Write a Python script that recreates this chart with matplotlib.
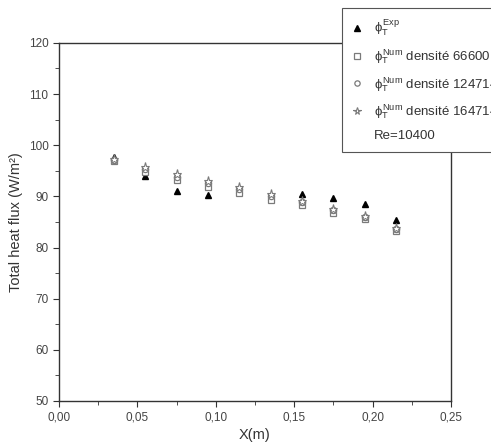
import matplotlib.pyplot as plt
import matplotlib.ticker as ticker
from matplotlib.lines import Line2D

plt.rcParams['font.family'] = ['Liberation Sans', 'DejaVu Sans']
plt.rcParams['mathtext.fontset'] = 'custom'
plt.rcParams['mathtext.rm'] = 'Liberation Sans'
plt.rcParams['mathtext.it'] = 'Liberation Sans'

# positions le long de la paroi (m)
x = [0.035, 0.055, 0.075, 0.095, 0.115, 0.135, 0.155, 0.175, 0.195, 0.215]

# flux total experimental et numerique (W/m2)
phi_exp = [97.7, 93.9, 91.1, 90.3, 91.3, 89.9, 90.4, 89.6, 88.5, 85.4]
phi_66600 = [96.9, 94.8, 93.2, 91.9, 90.6, 89.3, 88.3, 86.8, 85.6, 83.3]
phi_124714 = [97.2, 95.3, 93.8, 92.6, 91.4, 90.1, 88.8, 87.3, 85.9, 83.6]
phi_164714 = [97.4, 95.7, 94.3, 93.1, 91.9, 90.5, 89.1, 87.6, 86.2, 83.9]

labels = [r'$\phi_T^{\mathrm{Exp}}$',
          r'$\phi_T^{\mathrm{Num}}$ densité 66600',
          r'$\phi_T^{\mathrm{Num}}$ densité 124714',
          r'$\phi_T^{\mathrm{Num}}$ densité 164714',
          'Re=10400']

fig = plt.figure(figsize=(4.91, 4.47), dpi=100)
ax = fig.add_axes([0.120, 0.103, 0.7985, 0.801])

grey = '#7a7a7a'
h1, = ax.plot(x, phi_exp, linestyle='none', marker='^', color='black',
              markersize=5, zorder=2)
h2, = ax.plot(x, phi_66600, linestyle='none', marker='s', markerfacecolor='white',
              markeredgecolor=grey, markersize=4.5, markeredgewidth=0.9, zorder=3)
h3, = ax.plot(x, phi_124714, linestyle='none', marker='o', markerfacecolor='white',
              markeredgecolor=grey, markersize=4.5, markeredgewidth=0.9, zorder=4)
h4, = ax.plot(x, phi_164714, linestyle='none', marker='*', markerfacecolor='white',
              markeredgecolor=grey, markersize=6.5, markeredgewidth=0.8, zorder=5)
h5 = Line2D([], [], linestyle='none', marker=None)

ax.set_xlim(0, 0.25)
ax.set_ylim(50, 120)
ax.xaxis.set_major_locator(ticker.MultipleLocator(0.05))
ax.xaxis.set_minor_locator(ticker.MultipleLocator(0.025))
ax.yaxis.set_major_locator(ticker.MultipleLocator(10))
ax.yaxis.set_minor_locator(ticker.MultipleLocator(5))
ax.xaxis.set_major_formatter(ticker.FuncFormatter(lambda v, p: f'{v:.2f}'.replace('.', ',')))
ax.tick_params(which='both', direction='out', colors='#333333', labelsize=8.5,
               labelcolor='#444444')
ax.tick_params(which='major', length=4)
ax.tick_params(which='minor', length=3)
for s in ax.spines.values():
    s.set_color('#333333')
    s.set_linewidth(1.0)

ax.set_xlabel('X(m)', fontsize=10.5, color='#333333', labelpad=3)
ax.set_ylabel('Total heat flux (W/m²)', fontsize=10.5, color='#333333', labelpad=4)

leg = fig.legend([h1, h2, h3, h4, h5], labels, loc='upper left',
                 bbox_to_anchor=(342 / 491, 1 - 8 / 447), borderaxespad=0,
                 fontsize=9.5, frameon=True, fancybox=False, framealpha=1,
                 edgecolor='#555555', handlelength=0.8, handletextpad=0.9,
                 labelspacing=0.68, borderpad=0.75, markerscale=0.85)
leg.get_frame().set_linewidth(0.8)
for t in leg.get_texts():
    t.set_color('#333333')

fig.savefig('out.png', dpi=100)
